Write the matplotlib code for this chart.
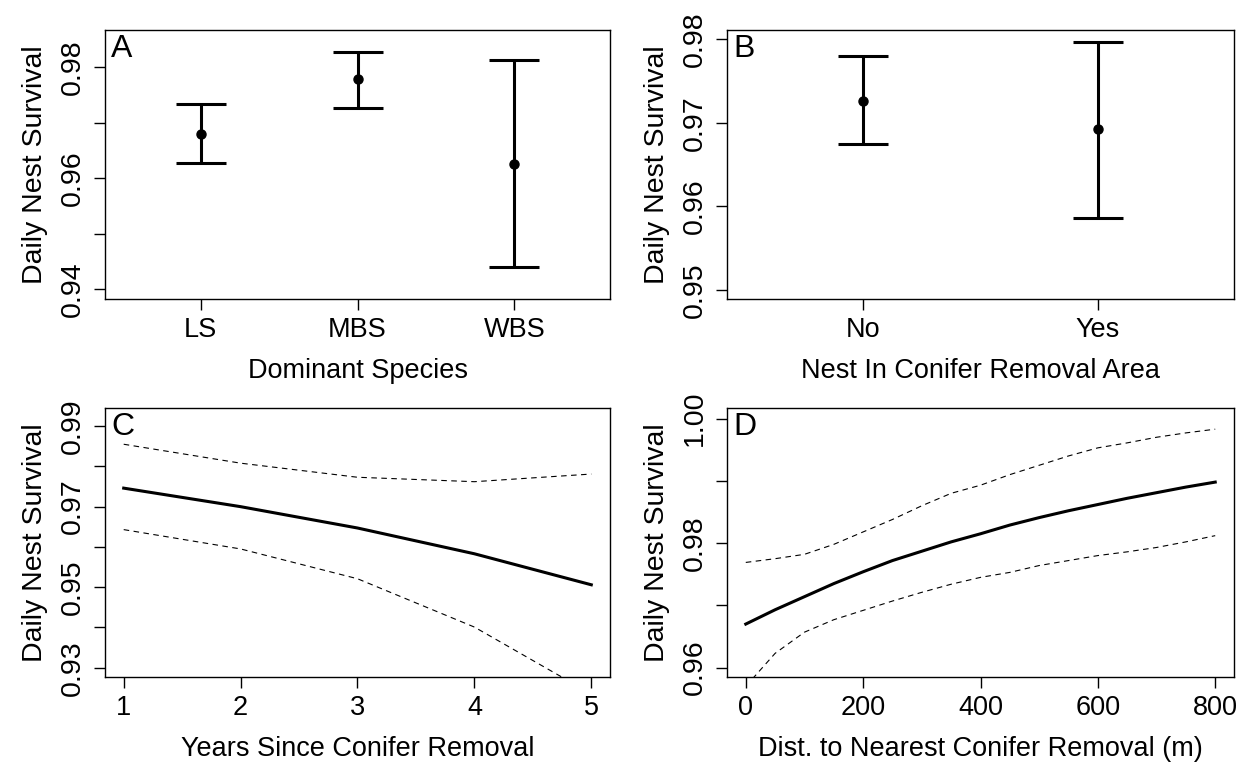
import matplotlib
matplotlib.use("Agg")
import matplotlib.pyplot as plt
import numpy as np

plt.rcParams["font.family"] = ["Liberation Sans", "DejaVu Sans"]
plt.rcParams["font.size"] = 19.5

# Panel A: dominant species
species = ["LS", "MBS", "WBS"]
species_mean = [0.9680, 0.9778, 0.9626]
species_lo = [0.9628, 0.9726, 0.9439]
species_hi = [0.9733, 0.9828, 0.9813]

# Panel B: nest in conifer removal area
removal = ["No", "Yes"]
removal_mean = [0.9726, 0.9692]
removal_lo = [0.9674, 0.9586]
removal_hi = [0.9780, 0.9797]

# Panel C: years since conifer removal
years = [1, 2, 3, 4, 5]
years_mean = [0.9746, 0.9700, 0.9647, 0.9583, 0.9506]
years_lo = [0.9643, 0.9595, 0.9521, 0.9401, 0.9235]
years_hi = [0.9855, 0.9808, 0.9773, 0.9762, 0.9781]

# Panel D: distance to nearest conifer removal (m)
dist = [0, 50, 100, 150, 200, 250, 300, 350, 400, 450, 500, 550, 600, 650, 700, 750, 800]
dist_mean = [0.9670, 0.9693, 0.9714, 0.9735, 0.9754, 0.9772, 0.9787, 0.9802, 0.9815,
             0.9829, 0.9841, 0.9852, 0.9862, 0.9872, 0.9881, 0.9890, 0.9898]
dist_lo = [0.9570, 0.9623, 0.9657, 0.9677, 0.9692, 0.9707, 0.9721, 0.9734, 0.9745,
           0.9753, 0.9764, 0.9772, 0.9780, 0.9786, 0.9793, 0.9802, 0.9812]
dist_hi = [0.9769, 0.9775, 0.9782, 0.9798, 0.9818, 0.9838, 0.9860, 0.9880, 0.9893,
           0.9910, 0.9925, 0.9940, 0.9953, 0.9961, 0.9970, 0.9977, 0.9983]

YLABEL = "Daily Nest Survival"
YSIZE = 20.5


def style_axes(ax, letter, yticks, ylabels, ylim):
    ax.set_ylim(*ylim)
    ax.set_yticks(yticks)
    ax.set_yticklabels(ylabels, fontsize=YSIZE)
    ax.tick_params(direction="out", length=8, width=1)
    ax.tick_params(axis="x", pad=5)
    ax.tick_params(axis="y", labelrotation=90, pad=6)
    for lab in ax.get_yticklabels():
        lab.set_va("center")
    for sp in ax.spines.values():
        sp.set_linewidth(1)
    ax.set_ylabel(YLABEL, labelpad=8, fontsize=YSIZE)
    ax.text(0.012, 0.985, letter, transform=ax.transAxes, ha="left", va="top", fontsize=23)


def errbar_panel(ax, names, mean, lo, hi):
    x = np.arange(1, len(names) + 1)
    m = np.array(mean)
    err = [m - np.array(lo), np.array(hi) - m]
    ax.errorbar(x, m, yerr=err, fmt="o", color="black", ms=6.5, elinewidth=2.2,
                capsize=18, capthick=2.2)
    ax.set_xticks(x)
    ax.set_xticklabels(names)


def fmt_labels(vals, keep):
    return [f"{v:.2f}" if k else "" for v, k in zip(vals, keep)]


fig = plt.figure(figsize=(12.4, 7.68), dpi=100)
L1, R1 = 105 / 1240, 610 / 1240
L2, R2 = 727 / 1240, 1234 / 1240
T1, B1 = 1 - 30 / 768, 1 - 299 / 768
T2, B2 = 1 - 408 / 768, 1 - 677 / 768

axA = fig.add_axes([L1, B1, R1 - L1, T1 - B1])
axB = fig.add_axes([L2, B1, R2 - L2, T1 - B1])
axC = fig.add_axes([L1, B2, R1 - L1, T2 - B2])
axD = fig.add_axes([L2, B2, R2 - L2, T2 - B2])

dash = (0, (5, 4))

# A
errbar_panel(axA, species, species_mean, species_lo, species_hi)
axA.set_xlim(0.39, 3.61)
tA = [0.94, 0.95, 0.96, 0.97, 0.98]
style_axes(axA, "A", tA, fmt_labels(tA, [1, 0, 1, 0, 1]), (0.9382, 0.9867))
axA.set_xlabel("Dominant Species", labelpad=11)

# B
errbar_panel(axB, removal, removal_mean, removal_lo, removal_hi)
axB.set_xlim(0.42, 2.58)
tB = [0.95, 0.96, 0.97, 0.98]
style_axes(axB, "B", tB, fmt_labels(tB, [1, 1, 1, 1]), (0.9489, 0.9811))
axB.set_xlabel("Nest In Conifer Removal Area", labelpad=11)

# C
axC.plot(years, years_mean, color="black", lw=2.2)
axC.plot(years, years_lo, color="black", lw=0.8, ls=dash)
axC.plot(years, years_hi, color="black", lw=0.8, ls=dash)
axC.set_xlim(0.84, 5.16)
axC.set_xticks(years)
tC = [0.93, 0.94, 0.95, 0.96, 0.97, 0.98, 0.99]
style_axes(axC, "C", tC, fmt_labels(tC, [1, 0, 1, 0, 1, 0, 1]), (0.9277, 0.9945))
axC.set_xlabel("Years Since Conifer Removal", labelpad=11)

# D
axD.plot(dist, dist_mean, color="black", lw=2.2)
axD.plot(dist, dist_lo, color="black", lw=0.8, ls=dash)
axD.plot(dist, dist_hi, color="black", lw=0.8, ls=dash)
axD.set_xlim(-32, 832)
axD.set_xticks([0, 200, 400, 600, 800])
tD = [0.96, 0.97, 0.98, 0.99, 1.00]
style_axes(axD, "D", tD, fmt_labels(tD, [1, 0, 1, 0, 1]), (0.9585, 1.0017))
axD.set_xlabel("Dist. to Nearest Conifer Removal (m)", labelpad=11)

fig.savefig("out.png", dpi=100)
